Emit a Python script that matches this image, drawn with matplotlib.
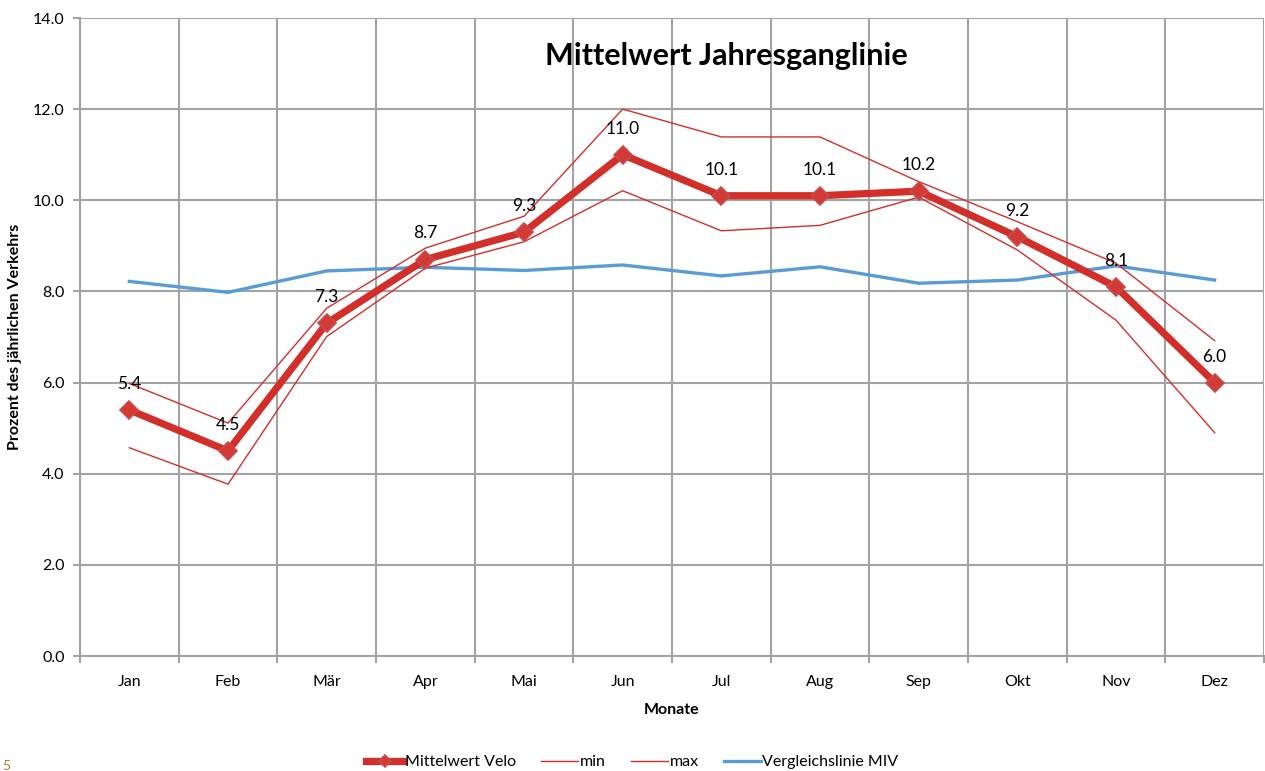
import matplotlib
matplotlib.use('Agg')
import matplotlib.pyplot as plt
import numpy as np

plt.rcParams['font.family'] = ['Lato', 'DejaVu Sans']

monate = ['Jan', 'Feb', 'Mär', 'Apr', 'Mai', 'Jun', 'Jul', 'Aug', 'Sep', 'Okt', 'Nov', 'Dez']
mittel = [5.4, 4.5, 7.3, 8.7, 9.3, 11.0, 10.1, 10.1, 10.2, 9.2, 8.1, 6.0]
minwert = [4.57, 3.77, 7.01, 8.51, 9.09, 10.21, 9.33, 9.45, 10.07, 8.91, 7.37, 4.90]
maxwert = [5.98, 5.11, 7.63, 8.95, 9.65, 12.0, 11.39, 11.39, 10.41, 9.53, 8.62, 6.92]
miv = [8.22, 7.98, 8.45, 8.53, 8.46, 8.58, 8.34, 8.54, 8.18, 8.25, 8.56, 8.25]

rot = '#d32f2a'
blau = '#5b9bd5'
grau = '#a3a3a6'

fig = plt.figure(figsize=(12.65, 7.71), dpi=100)
ax = fig.add_axes([80/1265, 115/771, 1184/1265, 638/771])

x = np.arange(len(monate))
ax.plot(x, miv, color=blau, lw=2.4, label='Vergleichslinie MIV', zorder=3)
ax.plot(x, minwert, color=rot, lw=1.0, label='min', zorder=4)
ax.plot(x, maxwert, color=rot, lw=1.0, label='max', zorder=4)
ax.plot(x, mittel, color=rot, lw=5.2, marker='D', ms=9, mfc='#d43a35',
        mec='#c94b4b', mew=1.2, label='Mittelwert Velo', zorder=5)

for xi, v in zip(x, mittel):
    ax.annotate('%.1f' % v, (xi, v), xytext=(0, 13), textcoords='offset points',
                ha='center', va='bottom', fontsize=12.5, zorder=6)

ax.set_xlim(-0.5, 11.5)
ax.set_ylim(0, 14)
ax.set_yticks(np.arange(0, 14.1, 2))
ax.set_yticklabels(['%.1f' % t for t in np.arange(0, 14.1, 2)], fontsize=11.5)
ax.set_xticks(x)
ax.set_xticklabels(monate, fontsize=11.5)
ax.set_xticks(np.arange(-0.5, 12, 1), minor=True)
ax.tick_params(axis='x', which='major', length=0, pad=14)
ax.tick_params(axis='x', which='minor', length=5, color=grau, width=1.5)
ax.tick_params(axis='y', length=5, color=grau, width=1.5, pad=6)

ax.grid(True, axis='y', color=grau, lw=1.5, zorder=0)
ax.grid(True, axis='x', which='minor', color=grau, lw=1.5, zorder=0)
for s in ['top', 'right']:
    ax.spines[s].set_visible(False)
for s in ['left', 'bottom']:
    ax.spines[s].set_color(grau)
    ax.spines[s].set_linewidth(1.5)
ax.set_axisbelow(True)

ax.set_xlabel('Monate', fontsize=11.5, fontweight='bold', labelpad=10)
ax.set_ylabel('Prozent des jährlichen Verkehrs', fontsize=11.5, fontweight='bold', labelpad=8)
ax.text(0.546, 0.941, 'Mittelwert Jahresganglinie', transform=ax.transAxes,
        ha='center', va='center', fontsize=22, fontweight='bold')

handles, labels = ax.get_legend_handles_labels()
order = [3, 1, 2, 0]
fig.legend([handles[i] for i in order], [labels[i] for i in order],
           loc='center', bbox_to_anchor=(0.5, 9/771), ncol=4, frameon=False,
           fontsize=11.5, handlelength=2.3, handletextpad=0.1, columnspacing=1.6,
           markerscale=0.7)

fig.text(2/1265, 5/771, '5', color='#b07a30', fontsize=10, va='center')

plt.savefig('out.png', dpi=100)
